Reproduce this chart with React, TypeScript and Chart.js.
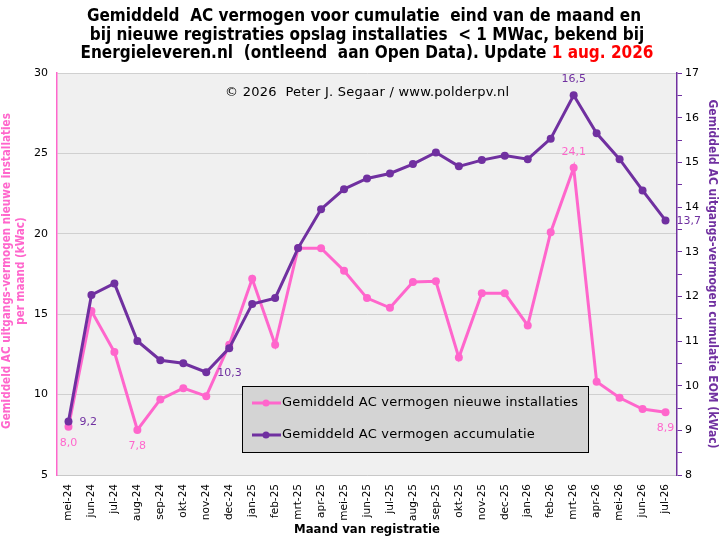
import { useEffect, useRef } from 'react';
import { Chart, registerables } from 'chart.js';

Chart.register(...registerables);

const months = [
  'mei-24', 'jun-24', 'jul-24', 'aug-24', 'sep-24', 'okt-24', 'nov-24', 'dec-24',
  'jan-25', 'feb-25', 'mrt-25', 'apr-25', 'mei-25', 'jun-25', 'jul-25', 'aug-25',
  'sep-25', 'okt-25', 'nov-25', 'dec-25', 'jan-26', 'feb-26', 'mrt-26', 'apr-26',
  'mei-26', 'jun-26', 'jul-26',
];

const newInstallations = [
  8.0, 15.2, 12.65, 7.8, 9.7, 10.4, 9.9, 13.1,
  17.2, 13.1, 19.1, 19.1, 17.7, 16.0, 15.4, 17.0,
  17.05, 12.3, 16.3, 16.3, 14.3, 20.1, 24.1, 10.8,
  9.8, 9.1, 8.9,
];

const cumulative = [
  9.2, 12.03, 12.29, 11.0, 10.57, 10.5, 10.3, 10.84,
  11.83, 11.96, 13.08, 13.95, 14.4, 14.64, 14.75, 14.96,
  15.22, 14.91, 15.05, 15.15, 15.07, 15.53, 16.5, 15.65,
  15.07, 14.37, 13.7,
];

const pinkLabelIdx = [0, 3, 22, 26];
const pinkLabelPos = ['below', 'below', 'above', 'below'];
const purpleLabelIdx = [0, 6, 22, 26];
const purpleLabelPos = ['right', 'right', 'above', 'right'];

const titleLines = [
  'Gemiddeld  AC vermogen voor cumulatie  eind van de maand en',
  'bij nieuwe registraties opslag installaties  < 1 MWac, bekend bij',
  'Energieleveren.nl  (ontleend  aan Open Data). Update ',
];
const titleRed = '1 aug. 2026';
const copyright = '\u00A9 2026  Peter J. Segaar / www.polderpv.nl';
const leftTitle = ['Gemiddeld AC uitgangs-vermogen nieuwe installaties', 'per maand (kWac)'];
const rightTitle = 'Gemiddeld AC uitgangs-vermogen cumulatie EOM (kWac)';
const xTitle = 'Maand van registratie';
const seriesNames = ['Gemiddeld AC vermogen nieuwe installaties', 'Gemiddeld AC vermogen accumulatie'];

const PINK = '#ff66cc';
const PURPLE = '#7030a0';
const FONT = '"DejaVu Sans", Verdana, sans-serif';
const FONT_C = '"DejaVu Sans Condensed", "DejaVu Sans", sans-serif';

const fmt = (v: number) => v.toFixed(1).replace('.', ',');

const decorPlugin = {
  id: 'decor',
  beforeDraw(chart: any) {
    const { ctx, chartArea: a, width, height } = chart;
    ctx.save();
    ctx.fillStyle = '#ffffff';
    ctx.fillRect(0, 0, width, height);
    ctx.fillStyle = '#f0f0f0';
    ctx.fillRect(a.left, a.top, a.right - a.left, a.bottom - a.top);
    ctx.restore();
  },
  afterDraw(chart: any) {
    const { ctx, chartArea: a, width } = chart;
    const cx = (a.left + a.right) / 2;
    ctx.save();
    // title
    ctx.font = `bold 17px ${FONT_C}`;
    ctx.textBaseline = 'middle';
    ctx.fillStyle = '#000';
    ctx.textAlign = 'center';
    ctx.fillText(titleLines[0], cx - 3, 17);
    ctx.fillText(titleLines[1], cx, 36);
    const w1 = ctx.measureText(titleLines[2]).width;
    const w2 = ctx.measureText(titleRed).width;
    const sx = cx - (w1 + w2) / 2;
    ctx.textAlign = 'left';
    ctx.fillText(titleLines[2], sx, 54);
    ctx.fillStyle = '#ff0000';
    ctx.fillText(titleRed, sx + w1, 54);

    // copyright
    ctx.fillStyle = '#000';
    ctx.font = `13px ${FONT}`;
    (ctx as any).letterSpacing = '0.25px';
    ctx.textAlign = 'left';
    ctx.fillText(copyright, a.left + 168, 93);
    (ctx as any).letterSpacing = '0px';

    // left axis title
    ctx.save();
    ctx.fillStyle = PINK;
    ctx.font = `bold 11.6px ${FONT_C}`;
    ctx.textAlign = 'center';
    ctx.translate(7, 271);
    ctx.rotate(-Math.PI / 2);
    ctx.fillText(leftTitle[0], 0, 0);
    ctx.fillText(leftTitle[1], 0, 14);
    ctx.restore();

    // right axis title
    ctx.save();
    ctx.fillStyle = PURPLE;
    ctx.font = `bold 12px ${FONT_C}`;
    ctx.textAlign = 'center';
    ctx.translate(width - 11, 274);
    ctx.rotate(Math.PI / 2);
    ctx.fillText(rightTitle, 0, 0);
    ctx.restore();

    // x title
    ctx.fillStyle = '#000';
    ctx.font = `bold 13px ${FONT_C}`;
    ctx.textAlign = 'center';
    ctx.fillText(xTitle, cx, 530);

    // data labels
    ctx.font = `11px ${FONT}`;
    const drawLabels = (dsIndex: number, idx: number[], pos: string[], data: number[], color: string) => {
      const meta = chart.getDatasetMeta(dsIndex);
      ctx.fillStyle = color;
      idx.forEach((i, k) => {
        const p = meta.data[i];
        if (!p) return;
        const txt = fmt(data[i]);
        if (pos[k] === 'below') {
          ctx.textAlign = 'center';
          ctx.fillText(txt, p.x, p.y + 16);
        } else if (pos[k] === 'above') {
          ctx.textAlign = 'center';
          ctx.fillText(txt, p.x, p.y - 16);
        } else {
          ctx.textAlign = 'left';
          ctx.fillText(txt, p.x + 11, p.y + 1);
        }
      });
    };
    drawLabels(0, pinkLabelIdx, pinkLabelPos, newInstallations, PINK);
    drawLabels(1, purpleLabelIdx, purpleLabelPos, cumulative, PURPLE);

    // legend box
    const lx = a.left + 185;
    const ly = 386;
    const lw = 346;
    const lh = 66;
    ctx.fillStyle = '#d4d4d4';
    ctx.fillRect(lx, ly, lw, lh);
    ctx.strokeStyle = '#000';
    ctx.lineWidth = 1;
    ctx.strokeRect(lx + 0.5, ly + 0.5, lw, lh);
    const rows = [ly + 17, ly + 49];
    const cols = [PINK, PURPLE];
    ctx.font = `13px ${FONT}`;
    (ctx as any).letterSpacing = '0.2px';
    ctx.textAlign = 'left';
    rows.forEach((ry, r) => {
      ctx.strokeStyle = cols[r];
      ctx.lineWidth = 3;
      ctx.beginPath();
      ctx.moveTo(lx + 10, ry);
      ctx.lineTo(lx + 39, ry);
      ctx.stroke();
      ctx.fillStyle = cols[r];
      ctx.beginPath();
      ctx.arc(lx + 24, ry, 3.5, 0, Math.PI * 2);
      ctx.fill();
      ctx.fillStyle = '#000';
      ctx.fillText(seriesNames[r], lx + 40, ry);
    });
    (ctx as any).letterSpacing = '0px';
    ctx.restore();
  },
};

export default function App() {
  const ref = useRef<HTMLCanvasElement>(null);
  useEffect(() => {
    document.body.style.margin = '0';
    const canvas = ref.current;
    if (!canvas) return;
    const chart = new Chart(canvas, {
      type: 'line',
      data: {
        labels: months,
        datasets: [
          {
            label: seriesNames[0],
            data: newInstallations,
            yAxisID: 'y',
            borderColor: PINK,
            backgroundColor: PINK,
            borderWidth: 3,
            pointRadius: 4,
            pointBorderWidth: 0,
            pointBackgroundColor: PINK,
            tension: 0,
            order: 1,
          },
          {
            label: seriesNames[1],
            data: cumulative,
            yAxisID: 'y1',
            borderColor: PURPLE,
            backgroundColor: PURPLE,
            borderWidth: 3,
            pointRadius: 4,
            pointBorderWidth: 0,
            pointBackgroundColor: PURPLE,
            tension: 0,
            order: 0,
          },
        ],
      },
      plugins: [decorPlugin],
      options: {
        animation: false,
        responsive: false,
        devicePixelRatio: 1,
        layout: { padding: { top: 73, left: 0, right: 0, bottom: 0 } },
        plugins: {
          legend: { display: false },
          title: { display: false },
          tooltip: { enabled: false },
        },
        scales: {
          x: {
            offset: true,
            grid: { display: false },
            border: { color: '#c8c8c8', width: 1 },
            ticks: {
              autoSkip: false,
              maxRotation: 90,
              minRotation: 90,
              color: '#000',
              font: { family: FONT, size: 10.5 },
              padding: 1,
            },
            afterFit: (s: any) => { s.height = 67; },
          },
          y: {
            position: 'left',
            min: 5,
            max: 30,
            ticks: { stepSize: 5, color: '#000', font: { family: FONT, size: 11 }, padding: 9 },
            grid: { color: '#d0d0d0', drawTicks: false },
            border: { color: PINK, width: 1.5 },
            afterFit: (s: any) => { s.width = 57; },
          },
          y1: {
            position: 'right',
            min: 8,
            max: 17,
            ticks: {
              stepSize: 0.5,
              color: '#000',
              font: { family: FONT, size: 11 },
              padding: 3,
              callback: (v: any) => (Number.isInteger(Number(v)) ? String(v) : ''),
            },
            grid: { drawOnChartArea: false, color: PURPLE, tickLength: 5 },
            border: { color: PURPLE, width: 1.5 },
            afterFit: (s: any) => { s.width = 46; },
          },
        },
      },
    } as any);
    return () => chart.destroy();
  }, []);
  return (
    <div style={{ width: 723, height: 542 }}>
      <canvas ref={ref} width={723} height={542} style={{ display: 'block' }} />
    </div>
  );
}
